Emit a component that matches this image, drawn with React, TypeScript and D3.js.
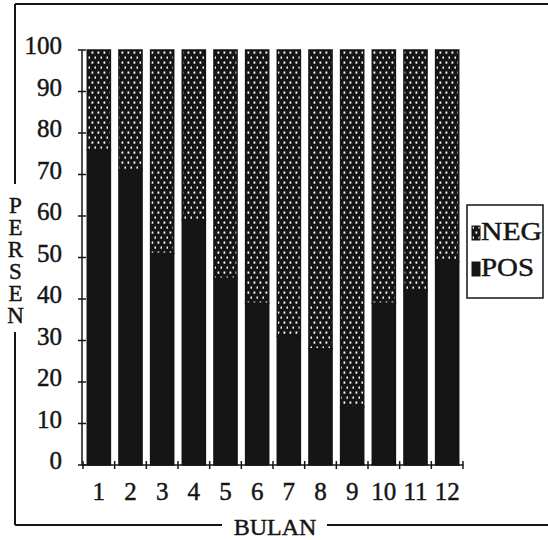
import React from 'react';
import * as d3 from 'd3';

const months = ['1', '2', '3', '4', '5', '6', '7', '8', '9', '10', '11', '12'];
const posValues = [76, 71, 51, 59, 45, 39, 31, 28, 14, 39, 42, 49];
const negValues = [24, 29, 49, 41, 55, 61, 69, 72, 86, 61, 58, 51];
const yTicks = [0, 10, 20, 30, 40, 50, 60, 70, 80, 90, 100];
const seriesKeys = ['POS', 'NEG'];
const legendItems = ['NEG', 'POS'];
const yTitle = 'PERSEN';
const xTitle = 'BULAN';

const W = 548;
const H = 540;
const INK = '#151515';
const FONT = '"Liberation Serif", "Times New Roman", serif';

export default function App() {
  const x = d3.scaleBand<string>().domain(months).range([83, 463]).paddingInner(0.27).paddingOuter(0.135);
  const y = d3.scaleLinear().domain([0, 100]).range([465, 50]);

  const table = months.map((m, i) => ({ month: m, POS: posValues[i], NEG: negValues[i] }));
  const stacked = d3.stack<any>().keys(seriesKeys)(table);

  const step = x.step();
  const boundaries = d3.range(months.length + 1).map((i) => 83 + i * step);

  const textStroke = { stroke: INK, strokeWidth: 0.45 };

  return (
    <svg width={W} height={H} style={{ position: 'absolute', left: 0, top: 0, background: '#fff' }}
      fontFamily={FONT}>
      <defs>
        <pattern id="dots" width={6} height={10} patternUnits="userSpaceOnUse">
          <rect x={0} y={0} width={6} height={10} fill={INK} />
          <rect x={1.5} y={1.5} width={1.8} height={2.2} fill="#fff" />
          <rect x={4.5} y={6.5} width={1.8} height={2.2} fill="#fff" />
        </pattern>
      </defs>
      <rect x={0} y={0} width={W} height={H} fill="#fff" />

      {/* frame */}
      <g stroke={INK} strokeWidth={2} fill="none">
        <line x1={15} y1={4} x2={W} y2={4} />
        <line x1={15} y1={4} x2={15} y2={184} />
        <line x1={15} y1={332} x2={15} y2={525} />
        <line x1={15} y1={525} x2={222} y2={525} />
        <line x1={327} y1={525} x2={W} y2={525} />
      </g>

      {/* bars */}
      {stacked.map((s) => (
        <g key={s.key}>
          {s.map((d, i) => (
            <rect key={i}
              x={x(months[i])!}
              y={y(d[1])}
              width={x.bandwidth()}
              height={y(d[0]) - y(d[1])}
              fill={s.key === 'NEG' ? 'url(#dots)' : INK}
              stroke={INK}
              strokeWidth={1.5} />
          ))}
        </g>
      ))}

      {/* y axis */}
      <line x1={82} y1={y(100)} x2={82} y2={y(0)} stroke={INK} strokeWidth={1.5} />
      {yTicks.map((t) => (
        <g key={t}>
          <line x1={78} x2={86} y1={y(t)} y2={y(t)} stroke={INK} strokeWidth={1.5} />
          <text x={62} y={y(t) + 4} textAnchor="end" fontSize={25} fill={INK} {...textStroke}>{t}</text>
        </g>
      ))}

      {/* x axis */}
      <line x1={82} y1={465} x2={463} y2={465} stroke={INK} strokeWidth={1.5} />
      {boundaries.map((b, i) => (
        <line key={i} x1={b} x2={b} y1={461} y2={469} stroke={INK} strokeWidth={1.5} />
      ))}
      {months.map((m) => (
        <text key={m} x={x(m)! + x.bandwidth() / 2} y={500} textAnchor="middle" fontSize={25} fill={INK} {...textStroke}>{m}</text>
      ))}

      {/* axis titles */}
      <text x={15.5} y={193} fontSize={23} fill={INK} letterSpacing={-3}
        style={{ writingMode: 'vertical-rl', textOrientation: 'upright' } as any}
        {...textStroke}>{yTitle}</text>
      <text x={275} y={535} textAnchor="middle" fontSize={24} fill={INK} {...textStroke}>{xTitle}</text>

      {/* legend */}
      <rect x={467} y={205} width={76} height={93} fill="#fff" stroke={INK} strokeWidth={1.5} />
      {legendItems.map((k, i) => (
        <g key={k}>
          <rect x={472} y={226 + i * 36} width={8} height={14}
            fill={k === 'NEG' ? 'url(#dots)' : INK} stroke={INK} strokeWidth={1} />
          <text x={481} y={240 + i * 36} fontSize={25} fill={INK} {...textStroke}
            textLength={k === 'NEG' ? 61 : 53} lengthAdjust="spacingAndGlyphs">{k}</text>
        </g>
      ))}
    </svg>
  );
}
